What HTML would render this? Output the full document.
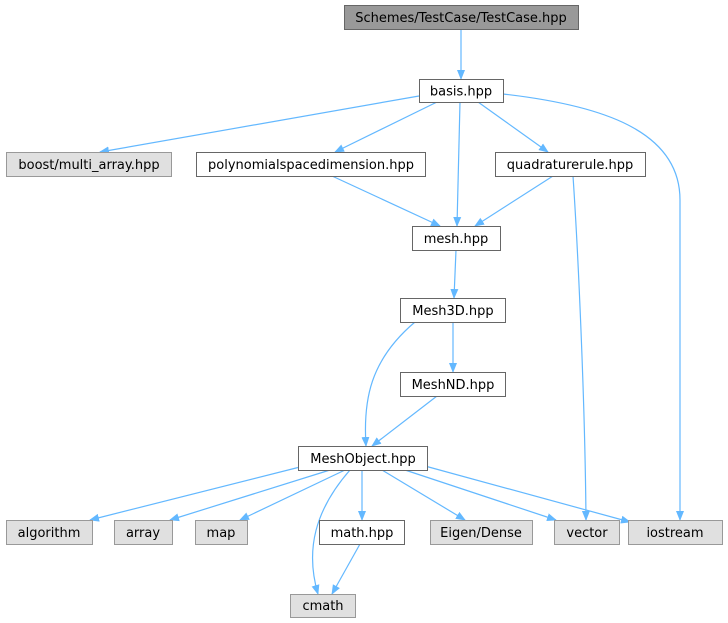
<!DOCTYPE html>
<html><head><meta charset="utf-8"><style>
html,body{margin:0;padding:0;background:#fff;}
svg{display:block;}
text{font-family:"DejaVu Sans",sans-serif;font-size:13px;fill:#000;text-anchor:middle;}
.n{fill:#fff;stroke:#666;stroke-width:1;}
.g{fill:#e0e0e0;stroke:#999;stroke-width:1;}
.e{fill:none;stroke:#63b8ff;stroke-width:1.2;}
</style></head><body>
<svg width="728" height="623" viewBox="0 0 728 623" xmlns="http://www.w3.org/2000/svg">
<defs><marker id="a" markerWidth="10" markerHeight="10" refX="9" refY="5" orient="auto" markerUnits="userSpaceOnUse"><path d="M0,1 L10,5 L0,9 Z" fill="#63b8ff"/></marker></defs>
<path class="e" marker-end="url(#a)" d="M461,30 L461,79"/>
<path class="e" marker-end="url(#a)" d="M419,96 L100,152"/>
<path class="e" marker-end="url(#a)" d="M437,102 L335,152"/>
<path class="e" marker-end="url(#a)" d="M478,102 L548,152"/>
<path class="e" marker-end="url(#a)" d="M460,102 L457,226"/>
<path class="e" marker-end="url(#a)" d="M503,94 C600,105 680,130 680,200 L680,520"/>
<path class="e" marker-end="url(#a)" d="M332,176 L440,226"/>
<path class="e" marker-end="url(#a)" d="M553,176 L475,226"/>
<path class="e" marker-end="url(#a)" d="M573,176 C578,250 585,400 586,520"/>
<path class="e" marker-end="url(#a)" d="M456,250 L454,298"/>
<path class="e" marker-end="url(#a)" d="M453,322 L453,372"/>
<path class="e" marker-end="url(#a)" d="M415,322 C370,360 363,400 366,446"/>
<path class="e" marker-end="url(#a)" d="M437,396 L372,446"/>
<path class="e" marker-end="url(#a)" d="M300,467 L90,520"/>
<path class="e" marker-end="url(#a)" d="M330,470 L170,520"/>
<path class="e" marker-end="url(#a)" d="M345,470 L240,520"/>
<path class="e" marker-end="url(#a)" d="M350,470 C315,510 305,550 318,594"/>
<path class="e" marker-end="url(#a)" d="M362,470 L362,520"/>
<path class="e" marker-end="url(#a)" d="M382,470 L465,520"/>
<path class="e" marker-end="url(#a)" d="M405,470 L556,520"/>
<path class="e" marker-end="url(#a)" d="M425,466 L630,522"/>
<path class="e" marker-end="url(#a)" d="M360,544 L332,594"/>
<rect x="344.5" y="5.5" width="234" height="24" fill="#999" stroke="#666"/><text x="461" y="22">Schemes/TestCase/TestCase.hpp</text>
<rect class="n" x="419.5" y="79.5" width="84" height="23"/><text x="461" y="95.5">basis.hpp</text>
<rect class="g" x="6.5" y="152.5" width="165" height="24"/><text x="89" y="169">boost/multi_array.hpp</text>
<rect class="n" x="196.5" y="152.5" width="229" height="24"/><text x="311" y="169">polynomialspacedimension.hpp</text>
<rect class="n" x="495.5" y="152.5" width="150" height="24"/><text x="570" y="169">quadraturerule.hpp</text>
<rect class="n" x="412.5" y="226.5" width="88" height="24"/><text x="456" y="243">mesh.hpp</text>
<rect class="n" x="400.5" y="298.5" width="105" height="24"/><text x="453" y="315">Mesh3D.hpp</text>
<rect class="n" x="400.5" y="372.5" width="105" height="24"/><text x="453" y="389">MeshND.hpp</text>
<rect class="n" x="298.5" y="446.5" width="129" height="24"/><text x="363" y="463">MeshObject.hpp</text>
<rect class="g" x="6.5" y="520.5" width="86" height="24"/><text x="49" y="537">algorithm</text>
<rect class="g" x="114.5" y="520.5" width="58" height="24"/><text x="143" y="537">array</text>
<rect class="g" x="195.5" y="520.5" width="52" height="24"/><text x="221" y="537">map</text>
<rect class="n" x="319.5" y="520.5" width="85" height="24"/><text x="362" y="537">math.hpp</text>
<rect class="g" x="430.5" y="520.5" width="102" height="24"/><text x="481" y="537">Eigen/Dense</text>
<rect class="g" x="554.5" y="520.5" width="65" height="24"/><text x="587" y="537">vector</text>
<rect class="g" x="628.5" y="520.5" width="94" height="24"/><text x="675" y="537">iostream</text>
<rect class="g" x="290.5" y="594.5" width="65" height="23"/><text x="323" y="610">cmath</text>
</svg>
</body></html>
